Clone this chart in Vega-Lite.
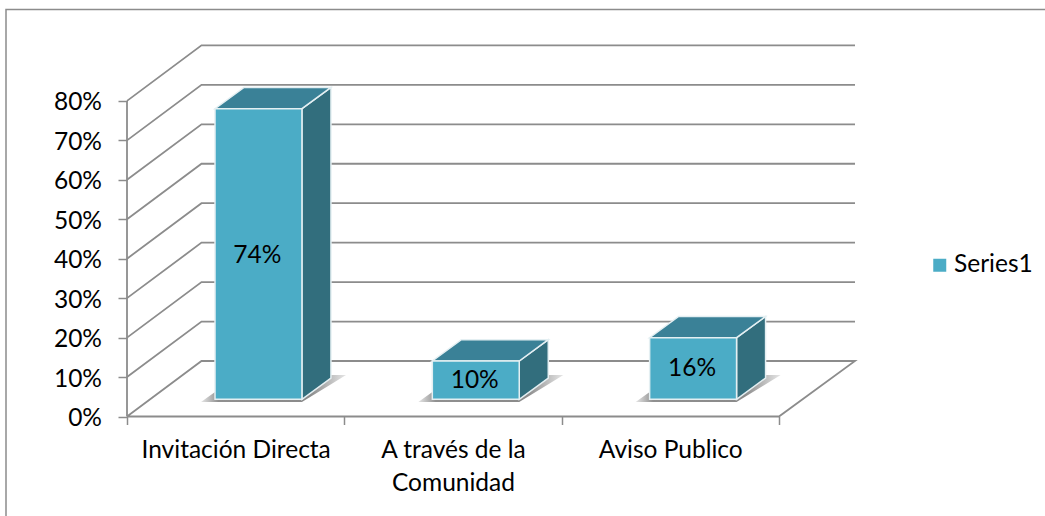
{
"$schema":"https://vega.github.io/schema/vega-lite/v6.json",
"autosize":"none",
"width":728,"height":371.5,
"padding":{"left":127,"top":45,"right":190,"bottom":99.5},
"background":"white",
"config":{"view":{"stroke":null},"font":"Lato"},
"datasets":{
"marco":[{"x":-0.5568,"y":-0.2522,"o":0},{"x":-0.5568,"y":1.0317,"o":1},{"x":4.2246,"y":1.0317,"o":2}],
"rejilla":[
{"nivel":"suelo","x":0,"y":0,"o":0},{"nivel":"suelo","x":0.3428,"y":0.1407,"o":1},{"nivel":"suelo","x":3.35,"y":0.1407,"o":2},{"nivel":"suelo","x":3,"y":0,"o":3},{"nivel":"suelo","x":0,"y":0,"o":4},
{"nivel":"eje","x":0,"y":0,"o":0},{"nivel":"eje","x":0,"y":0.8,"o":1},
{"nivel":"10","x":0,"y":0.1,"o":0},{"nivel":"10","x":0.3428,"y":0.2407,"o":1},{"nivel":"10","x":3.35,"y":0.2407,"o":2},
{"nivel":"20","x":0,"y":0.2,"o":0},{"nivel":"20","x":0.3428,"y":0.3407,"o":1},{"nivel":"20","x":3.35,"y":0.3407,"o":2},
{"nivel":"30","x":0,"y":0.3,"o":0},{"nivel":"30","x":0.3428,"y":0.4407,"o":1},{"nivel":"30","x":3.35,"y":0.4407,"o":2},
{"nivel":"40","x":0,"y":0.4,"o":0},{"nivel":"40","x":0.3428,"y":0.5407,"o":1},{"nivel":"40","x":3.35,"y":0.5407,"o":2},
{"nivel":"50","x":0,"y":0.5,"o":0},{"nivel":"50","x":0.3428,"y":0.6407,"o":1},{"nivel":"50","x":3.35,"y":0.6407,"o":2},
{"nivel":"60","x":0,"y":0.6,"o":0},{"nivel":"60","x":0.3428,"y":0.7407,"o":1},{"nivel":"60","x":3.35,"y":0.7407,"o":2},
{"nivel":"70","x":0,"y":0.7,"o":0},{"nivel":"70","x":0.3428,"y":0.8407,"o":1},{"nivel":"70","x":3.35,"y":0.8407,"o":2},
{"nivel":"80","x":0,"y":0.8,"o":0},{"nivel":"80","x":0.3428,"y":0.9407,"o":1},{"nivel":"80","x":3.35,"y":0.9407,"o":2}
],
"sombras":[
{"b":"a","x":0.3405,"y":0.0368,"y2":0.0368},{"b":"a","x":0.405,"y":0.0368,"y2":0.0621},{"b":"a","x":0.805,"y":0.0368,"y2":0.0925},{"b":"a","x":0.939,"y":0.0819,"y2":0.105},{"b":"a","x":1.008,"y":0.105,"y2":0.105},
{"b":"b","x":1.3405,"y":0.0368,"y2":0.0368},{"b":"b","x":1.405,"y":0.0368,"y2":0.0621},{"b":"b","x":1.805,"y":0.0368,"y2":0.0925},{"b":"b","x":1.939,"y":0.0819,"y2":0.105},{"b":"b","x":2.008,"y":0.105,"y2":0.105},
{"b":"c","x":2.3405,"y":0.0368,"y2":0.0368},{"b":"c","x":2.405,"y":0.0368,"y2":0.0621},{"b":"c","x":2.805,"y":0.0368,"y2":0.0925},{"b":"c","x":2.939,"y":0.0819,"y2":0.105},{"b":"c","x":3.008,"y":0.105,"y2":0.105}
],
"lados":[
{"b":"a","x":0.805,"y":0.0436,"y2":0.7802},{"b":"a","x":0.9385,"y":0.0976,"y2":0.8342},
{"b":"b","x":1.805,"y":0.0436,"y2":0.1407},{"b":"b","x":1.9385,"y":0.0976,"y2":0.1947},
{"b":"c","x":2.805,"y":0.0436,"y2":0.1997},{"b":"c","x":2.9385,"y":0.0976,"y2":0.2537}
],
"tapas":[
{"b":"a","x":0.405,"y":0.7802,"y2":0.7802},{"b":"a","x":0.5385,"y":0.7802,"y2":0.8342},{"b":"a","x":0.805,"y":0.7802,"y2":0.8342},{"b":"a","x":0.9385,"y":0.8342,"y2":0.8342},
{"b":"b","x":1.405,"y":0.1407,"y2":0.1407},{"b":"b","x":1.5385,"y":0.1407,"y2":0.1947},{"b":"b","x":1.805,"y":0.1407,"y2":0.1947},{"b":"b","x":1.9385,"y":0.1947,"y2":0.1947},
{"b":"c","x":2.405,"y":0.1997,"y2":0.1997},{"b":"c","x":2.5385,"y":0.1997,"y2":0.2537},{"b":"c","x":2.805,"y":0.1997,"y2":0.2537},{"b":"c","x":2.9385,"y":0.2537,"y2":0.2537}
],
"barras":[
{"categoria":"Invitación Directa","serie":"Series1","valor":0.74,"x":0.405,"x2":0.805,"y":0.0436,"y2":0.7802,"xm":0.6,"ym":0.408},
{"categoria":"A través de la Comunidad","serie":"Series1","valor":0.10,"x":1.405,"x2":1.805,"y":0.0436,"y2":0.1407,"xm":1.6,"ym":0.09},
{"categoria":"Aviso Publico","serie":"Series1","valor":0.16,"x":2.405,"x2":2.805,"y":0.0436,"y2":0.1997,"xm":2.6,"ym":0.1197}
]
},
"encoding":{
"x":{"field":"x","type":"quantitative","scale":{"domain":[0,3.35],"nice":false,"zero":false},
"axis":{"title":null,"grid":false,"domain":false,"values":[0,1,2,3],"tickColor":"#8c8c8c","tickWidth":1.5,"tickSize":8,"labelOffset":108.65,"labelPadding":14,"labelFontSize":24.5,"labelFont":"Lato","labelColor":"#000000","labelOverlap":false,"labelBound":false,"labelFlush":false,"labelLimit":400,"labelLineHeight":33,"labelBaseline":"top","labelAlign":"center",
"labelExpr":"datum.value==0?'Invitación Directa':datum.value==1?['A través de la','Comunidad']:datum.value==2?'Aviso Publico':''"}},
"y":{"field":"y","type":"quantitative","stack":null,"scale":{"domain":[0,0.9417],"nice":false,"zero":false},
"axis":{"title":null,"grid":false,"domain":false,"values":[0,0.1,0.2,0.3,0.4,0.5,0.6,0.7,0.8],"format":".0%","tickColor":"#8c8c8c","tickWidth":1.5,"tickSize":9,"labelPadding":16.5,"labelOffset":2,"labelFontSize":24.5,"labelFont":"Lato","labelColor":"#000000","labelOverlap":false,"labelBound":false,"labelFlush":false}}
},
"layer":[
{"data":{"name":"marco"},"mark":{"type":"line","color":"#8c8c8c","strokeWidth":1.5,"clip":false},"encoding":{"order":{"field":"o"}}},
{"data":{"name":"rejilla"},"mark":{"type":"line","color":"#8c8c8c","strokeWidth":1.8},"encoding":{"detail":{"field":"nivel"},"order":{"field":"o"}}},
{"data":{"name":"sombras"},"mark":{"type":"area","orient":"vertical","color":{"x1":0,"y1":0,"x2":1,"y2":0,"gradient":"linear","stops":[{"offset":0,"color":"#e6e6e6"},{"offset":0.12,"color":"#909090"},{"offset":0.75,"color":"#8a8a8a"},{"offset":1,"color":"#e6e6e6"}]}},"encoding":{"y2":{"field":"y2"},"detail":{"field":"b"}}},
{"data":{"name":"lados"},"mark":{"type":"area","orient":"vertical","fill":"#326e7d","stroke":"#e4eff2","strokeWidth":1.5},"encoding":{"y2":{"field":"y2"},"detail":{"field":"b"}}},
{"data":{"name":"tapas"},"mark":{"type":"area","orient":"vertical","fill":"#3a8197","stroke":"#e4eff2","strokeWidth":1.5},"encoding":{"y2":{"field":"y2"},"detail":{"field":"b"}}},
{"data":{"name":"barras"},"mark":{"type":"rect","stroke":"#e4eff2","strokeWidth":1.5},"encoding":{"x2":{"field":"x2"},"y2":{"field":"y2"},
"color":{"field":"serie","type":"nominal","scale":{"domain":["Series1"],"range":["#4bacc6"]},
"legend":{"title":null,"orient":"none","legendX":800.5,"legendY":208,"padding":0,"symbolType":"square","symbolSize":169,"symbolStrokeWidth":0,"labelFont":"Lato","labelFontSize":24.5,"labelColor":"#000000","labelOffset":2}}}},
{"data":{"name":"barras"},"mark":{"type":"text","fontSize":24.5,"font":"Lato","color":"#000000","baseline":"middle","align":"center"},"encoding":{"x":{"field":"xm","type":"quantitative"},"y":{"field":"ym","type":"quantitative"},"text":{"field":"valor","type":"quantitative","format":".0%"}}}
]
}
